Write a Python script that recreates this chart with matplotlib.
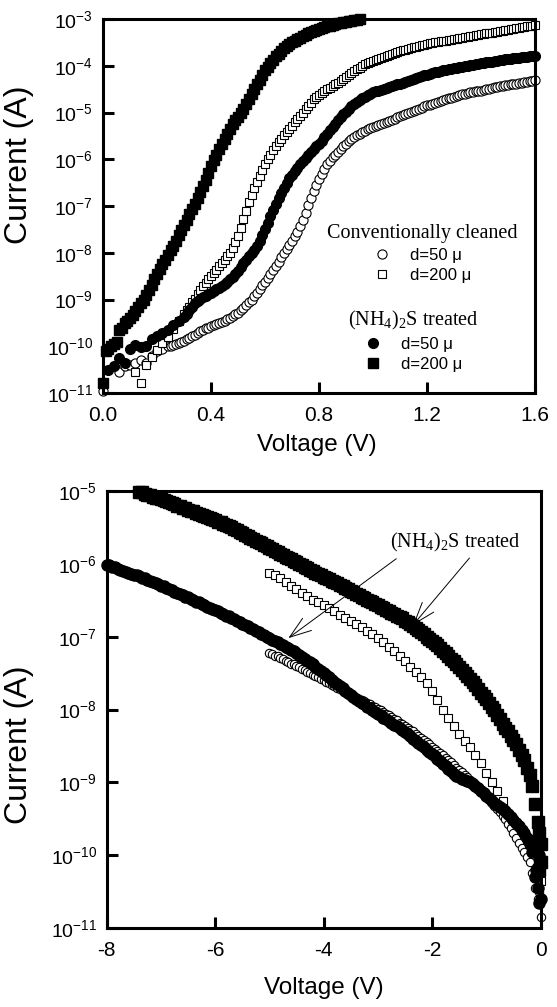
import numpy as np
import matplotlib
matplotlib.use("Agg")
import matplotlib.pyplot as plt

plt.rcParams['font.family'] = ['Liberation Sans', 'DejaVu Sans']
plt.rcParams['mathtext.default'] = 'regular'
plt.rcParams['axes.unicode_minus'] = False

# values are log10(I / A); each series is a list of (start V, step V, values)

# ---------------- forward bias (top panel) ----------------
# (NH4)2S treated, d=200 um
fwd_ts = [(0.0, 0.01, [
    -10.78, -10.1, -10.05, -10.0, -9.95, -9.9, -9.65, -9.6, -9.5, -9.45,
    -9.4, -9.33, -9.25, -9.16, -9.08, -9.0, -8.9, -8.8, -8.68, -8.56,
    -8.45, -8.35, -8.25, -8.15, -8.05, -7.95, -7.85, -7.74, -7.62, -7.51,
    -7.4, -7.29, -7.18, -7.07, -6.95, -6.83, -6.7, -6.57, -6.44, -6.3,
    -6.15, -6.02, -5.9, -5.79, -5.68, -5.57, -5.47, -5.36, -5.25, -5.17,
    -5.1, -5.01, -4.92, -4.82, -4.72, -4.61, -4.5, -4.4, -4.3, -4.2,
    -4.1, -4.02, -3.94, -3.87, -3.8, -3.74, -3.68, -3.63, -3.58, -3.54,
    -3.5, -3.46, -3.43, -3.4, -3.37, -3.34, -3.31, -3.28, -3.26, -3.23,
    -3.21, -3.19, -3.17, -3.15, -3.14, -3.12, -3.11, -3.09, -3.08, -3.07,
    -3.06, -3.05, -3.04, -3.03, -3.02, -3.01])]
# (NH4)2S treated, d=50 um
fwd_tc = [(0.02, 0.02, [
    -10.5, -10.42, -10.25, -10.35, -10.05, -9.98, -10.02, -10.0, -9.85, -9.78,
    -9.72, -9.65, -9.55, -9.47, -9.38]),
    (0.31, 0.01, [
    -9.3, -9.22, -9.15, -9.08, -9.03, -8.98, -8.95, -8.92, -8.89, -8.86,
    -8.82, -8.78, -8.75, -8.71, -8.67, -8.62, -8.57, -8.52, -8.45, -8.38,
    -8.3, -8.22, -8.15, -8.08, -8.01, -7.94, -7.85, -7.75, -7.63, -7.5,
    -7.36, -7.22, -7.08, -6.95, -6.83, -6.72, -6.61, -6.5, -6.41, -6.33,
    -6.25, -6.18, -6.11, -6.04, -5.97, -5.9, -5.84, -5.78, -5.72, -5.67,
    -5.6, -5.52, -5.45, -5.38, -5.31, -5.24, -5.17, -5.1, -5.04, -4.98,
    -4.92, -4.87, -4.82, -4.78, -4.74, -4.7, -4.66, -4.63, -4.6, -4.57,
    -4.55, -4.53, -4.51, -4.5, -4.48, -4.46, -4.44, -4.42, -4.4, -4.38,
    -4.36, -4.34, -4.32, -4.3, -4.28, -4.26, -4.24, -4.22, -4.2, -4.19,
    -4.17, -4.16, -4.14, -4.13, -4.11, -4.1, -4.09, -4.08, -4.06, -4.05,
    -4.04, -4.03, -4.02, -4.01, -4.0, -3.99, -3.98, -3.97, -3.96, -3.95,
    -3.94, -3.93, -3.92, -3.91, -3.9, -3.89, -3.88, -3.87, -3.865, -3.86,
    -3.85, -3.84, -3.835, -3.83, -3.82, -3.81, -3.805, -3.8, -3.795, -3.79])]
# conventionally cleaned, d=200 um
fwd_cs = [(0.12, 0.02, [
    -10.55, -10.78, -10.4, -10.22, -10.08, -9.94, -9.8, -9.64, -9.46, -9.3]),
    (0.31, 0.01, [
    -9.22, -9.15, -9.06, -8.98, -8.89, -8.8, -8.72, -8.65, -8.57, -8.5,
    -8.43, -8.36, -8.29, -8.22, -8.15, -8.08, -8.0, -7.9, -7.78, -7.65,
    -7.47, -7.28, -7.1, -6.92, -6.77, -6.62, -6.49, -6.36, -6.23, -6.1,
    -6.0, -5.9, -5.81, -5.72, -5.64, -5.56, -5.49, -5.42, -5.35, -5.28,
    -5.21, -5.14, -5.07, -5.0, -4.93, -4.86, -4.79, -4.72, -4.67, -4.62,
    -4.58, -4.54, -4.5, -4.47, -4.43, -4.4, -4.36, -4.32, -4.28, -4.24,
    -4.2, -4.16, -4.12, -4.08, -4.04, -4.0, -3.97, -3.94, -3.91, -3.89,
    -3.87, -3.85, -3.83, -3.81, -3.79, -3.77, -3.75, -3.73, -3.71, -3.69,
    -3.67, -3.66, -3.64, -3.62, -3.6, -3.59, -3.57, -3.56, -3.55, -3.54,
    -3.52, -3.51, -3.5, -3.49, -3.48, -3.47, -3.46, -3.45, -3.44, -3.43,
    -3.42, -3.41, -3.4, -3.39, -3.38, -3.37, -3.36, -3.35, -3.34, -3.33,
    -3.32, -3.31, -3.3, -3.29, -3.28, -3.27, -3.26, -3.25, -3.24, -3.23,
    -3.22, -3.21, -3.2, -3.19, -3.18, -3.17, -3.16, -3.15, -3.14, -3.13])]
# conventionally cleaned, d=50 um
fwd_cc = [(0.0, 0.02, [-10.95]),
          (0.06, 0.02, [
    -10.55, -10.42, -10.4, -10.35, -10.3, -10.35, -10.2, -10.1, -10.05, -10.0]),
    (0.25, 0.01, [
    -9.99, -9.98, -9.95, -9.93, -9.9, -9.88, -9.85, -9.83, -9.79, -9.75,
    -9.71, -9.68, -9.65, -9.62, -9.6, -9.57, -9.55, -9.53, -9.5, -9.48,
    -9.45, -9.42, -9.39, -9.36, -9.32, -9.28, -9.23, -9.18, -9.12, -9.06,
    -9.0, -8.93, -8.86, -8.78, -8.7, -8.62, -8.54, -8.46, -8.37, -8.28,
    -8.19, -8.1, -8.01, -7.92, -7.83, -7.74, -7.65, -7.55, -7.43, -7.3,
    -7.14, -6.98, -6.83, -6.68, -6.55, -6.42, -6.31, -6.2, -6.11, -6.03,
    -5.96, -5.9, -5.84, -5.78, -5.72, -5.67, -5.62, -5.57, -5.53, -5.49,
    -5.45, -5.42, -5.39, -5.36, -5.33, -5.31, -5.28, -5.26, -5.24, -5.22,
    -5.2, -5.18, -5.15, -5.13, -5.1, -5.08, -5.06, -5.04, -5.01, -4.99,
    -4.96, -4.94, -4.92, -4.9, -4.87, -4.85, -4.83, -4.81, -4.79, -4.77,
    -4.75, -4.73, -4.71, -4.7, -4.68, -4.66, -4.64, -4.63, -4.61, -4.6,
    -4.58, -4.57, -4.56, -4.55, -4.54, -4.53, -4.51, -4.5, -4.49, -4.48,
    -4.46, -4.45, -4.44, -4.43, -4.42, -4.41, -4.4, -4.39, -4.38, -4.37,
    -4.36, -4.35, -4.34, -4.33, -4.32, -4.31])]

# ---------------- reverse bias (bottom panel) ----------------
# (NH4)2S treated, d=50 um
rev_tc = [(-8.0, 0.05, [
    -6.01, -6.02, -6.04, -6.05, -6.07, -6.09, -6.1, -6.11, -6.12, -6.14,
    -6.15, -6.16, -6.17, -6.19, -6.2, -6.22, -6.23, -6.25, -6.26, -6.28,
    -6.3, -6.31, -6.33, -6.35, -6.36, -6.38, -6.4, -6.42, -6.43, -6.45,
    -6.46, -6.48, -6.5, -6.52, -6.53, -6.55, -6.57, -6.59, -6.6, -6.62,
    -6.64, -6.65, -6.67, -6.69, -6.71, -6.72, -6.74, -6.76, -6.78, -6.8,
    -6.82, -6.84, -6.86, -6.88, -6.9, -6.92, -6.94, -6.96, -6.98, -7.0,
    -7.02, -7.04, -7.06, -7.08, -7.1, -7.12, -7.14, -7.16, -7.18, -7.2,
    -7.23, -7.25, -7.28, -7.3, -7.33, -7.35, -7.38, -7.41, -7.44, -7.47,
    -7.5, -7.53, -7.56, -7.59, -7.62, -7.65, -7.68, -7.71, -7.74, -7.77,
    -7.8, -7.83, -7.86, -7.88, -7.91, -7.93, -7.96, -7.98, -8.01, -8.03,
    -8.06, -8.08, -8.11, -8.13, -8.16, -8.18, -8.21, -8.23, -8.26, -8.28,
    -8.31, -8.34, -8.37, -8.4, -8.43, -8.46, -8.49, -8.52, -8.55, -8.58,
    -8.61, -8.64, -8.68, -8.71, -8.75, -8.78, -8.82, -8.85, -8.88, -8.91,
    -8.93, -8.95, -8.97, -8.98, -9.0, -9.02, -9.05, -9.08, -9.12, -9.15,
    -9.19, -9.22, -9.25, -9.28, -9.31, -9.34, -9.37, -9.4, -9.44, -9.48,
    -9.52, -9.56, -9.6, -9.65, -9.7, -9.76, -9.84, -9.95, -10.3, -10.45,
    -10.6]),
    (-0.08, 0.01, [-10.2]), (-0.03, 0.01, [-10.65, -10.0])]
# (NH4)2S treated, d=200 um
rev_ts = [(-7.4, 0.05, [
    -5.01, -5.02, -5.04, -5.05, -5.06, -5.08, -5.09, -5.1, -5.11, -5.13,
    -5.14, -5.15, -5.17, -5.18, -5.2, -5.21, -5.23, -5.24, -5.26, -5.27,
    -5.28, -5.3, -5.31, -5.33, -5.34, -5.36, -5.37, -5.39, -5.4, -5.42,
    -5.43, -5.45, -5.47, -5.48, -5.5, -5.52, -5.54, -5.56, -5.58, -5.6,
    -5.62, -5.64, -5.66, -5.68, -5.7, -5.72, -5.74, -5.76, -5.78, -5.8,
    -5.82, -5.84, -5.86, -5.88, -5.9, -5.92, -5.94, -5.96, -5.98, -6.0,
    -6.02, -6.04, -6.06, -6.08, -6.1, -6.12, -6.14, -6.16, -6.18, -6.2,
    -6.21, -6.23, -6.25, -6.27, -6.29, -6.31, -6.33, -6.35, -6.37, -6.39,
    -6.41, -6.43, -6.45, -6.47, -6.49, -6.51, -6.53, -6.55, -6.57, -6.59,
    -6.61, -6.63, -6.65, -6.67, -6.69, -6.71, -6.73, -6.75, -6.78, -6.8,
    -6.83, -6.85, -6.88, -6.91, -6.94, -6.97, -7.0, -7.03, -7.06, -7.09,
    -7.12, -7.15, -7.19, -7.22, -7.26, -7.3, -7.34, -7.38, -7.42, -7.46,
    -7.5, -7.54, -7.58, -7.62, -7.67, -7.72, -7.77, -7.81, -7.86, -7.91,
    -7.96, -8.01, -8.07, -8.13, -8.2, -8.25, -8.3, -8.36, -8.42, -8.48,
    -8.55, -8.62, -8.7, -8.8, -8.9, -9.05, -9.3, -9.55, -9.85]),
    (-0.03, 0.01, [-9.7, -10.2, -10.1, -10.1])]
# conventionally cleaned, d=200 um
rev_cs = [(-5.0, 0.1, [
    -6.12, -6.16, -6.2, -6.25, -6.3, -6.35, -6.4, -6.44, -6.49, -6.53,
    -6.57, -6.61, -6.65, -6.7, -6.74, -6.78, -6.83, -6.87, -6.92, -6.97,
    -7.02, -7.08, -7.14, -7.2, -7.27, -7.34, -7.41, -7.48, -7.56, -7.64,
    -7.74, -7.87, -8.0, -8.12, -8.23, -8.33, -8.43, -8.52, -8.62, -8.74,
    -8.87, -9.0, -9.12, -9.25]),
    (-0.03, 0.03, [-10.25, -10.35])]
# conventionally cleaned, d=50 um
rev_cc = [(-5.0, 0.05, [
    -7.22, -7.24, -7.26, -7.27, -7.29, -7.31, -7.33, -7.35, -7.37, -7.38,
    -7.4, -7.42, -7.44, -7.46, -7.48, -7.5, -7.52, -7.54, -7.56, -7.58,
    -7.6, -7.62, -7.64, -7.66, -7.68, -7.7, -7.72, -7.74, -7.76, -7.78,
    -7.8, -7.82, -7.84, -7.85, -7.87, -7.89, -7.91, -7.93, -7.95, -7.97,
    -7.99, -8.01, -8.04, -8.06, -8.08, -8.1, -8.13, -8.15, -8.18, -8.2,
    -8.23, -8.25, -8.28, -8.3, -8.33, -8.36, -8.39, -8.42, -8.45, -8.48,
    -8.51, -8.54, -8.57, -8.6, -8.63, -8.66, -8.69, -8.72, -8.76, -8.8,
    -8.83, -8.86, -8.9, -8.93, -8.97, -9.0, -9.04, -9.07, -9.11, -9.15,
    -9.19, -9.23, -9.28, -9.32, -9.37, -9.41, -9.46, -9.51, -9.57, -9.63,
    -9.69, -9.76, -9.83, -9.9, -9.96, -10.03, -10.1, -10.25, -10.45, -10.6,
    -10.85]),
    (-0.03, 0.01, [-10.5])]

top_xticks = [0.0, 0.4, 0.8, 1.2, 1.6]
top_xticklabels = ['0.0', '0.4', '0.8', '1.2', '1.6']
bot_xticks = [-8, -6, -4, -2, 0]
bot_xticklabels = ['-8', '-6', '-4', '-2', '0']


def series(segments):
    vs, ls = [], []
    for start, step, vals in segments:
        vs.append(start + step * np.arange(len(vals)))
        ls.append(np.array(vals))
    return np.concatenate(vs), 10.0 ** np.concatenate(ls)


def style(ax, ymin, ymax):
    ax.set_yscale('log')
    ax.set_yticks([10.0 ** k for k in range(ymin, ymax + 1)])
    ax.yaxis.set_minor_locator(matplotlib.ticker.NullLocator())
    ax.set_ylim(10.0 ** ymin, 10.0 ** ymax)
    for s in ax.spines.values():
        s.set_linewidth(2.2)
    ax.tick_params(direction='in', length=8, width=2.2, labelsize=14,
                   top=False, right=False, pad=7)
    ax.tick_params(axis='x', labelsize=15, pad=9)


fig = plt.figure(figsize=(5.57, 10.07), dpi=100)
open_kw = dict(ls='none', mfc='white', mec='black', mew=0.8, clip_on=False)
fill_kw = dict(ls='none', color='black', clip_on=False)

# ---------------- top panel ----------------
ax1 = fig.add_axes([103 / 557, 1 - 393 / 1007, 432 / 557, 374 / 1007])
h_cc, = ax1.plot(*series(fwd_cc), 'o', ms=6.6, label='d=50 μ', **open_kw)
h_cs, = ax1.plot(*series(fwd_cs), 's', ms=6.0, label='d=200 μ', **open_kw)
h_tc, = ax1.plot(*series(fwd_tc), 'o', ms=7.0, label='d=50 μ', **fill_kw)
h_ts, = ax1.plot(*series(fwd_ts), 's', ms=6.5, label='d=200 μ', **fill_kw)

style(ax1, -11, -3)
ax1.set_xlim(0, 1.6)
ax1.set_xticks(top_xticks)
ax1.set_xticklabels(top_xticklabels)
ax1.set_xlabel('Voltage (V)', fontsize=17.5)
ax1.set_ylabel('Current (A)', fontsize=23)
ax1.xaxis.set_label_coords(0.495, -0.11)
ax1.yaxis.set_label_coords(-0.16, 0.61)

leg_kw = dict(loc='upper center', frameon=False, borderpad=0, handlelength=1.0,
              handletextpad=1.2, labelspacing=0.3, numpoints=1,
              prop={'size': 12}, borderaxespad=0,
              title_fontproperties={'family': 'Liberation Serif', 'size': 14.5})
leg1 = ax1.legend(handles=[h_cc, h_cs], title='Conventionally cleaned',
                  bbox_to_anchor=(0.739, 0.452), **leg_kw)
ax1.add_artist(leg1)
ax1.legend(handles=[h_tc, h_ts], title='(NH$_4$)$_2$S treated',
           bbox_to_anchor=(0.718, 0.226), **leg_kw)

# ---------------- bottom panel ----------------
ax2 = fig.add_axes([106.7 / 557, 1 - 928 / 1007, 433.8 / 557, 437 / 1007])
ax2.plot(*series(rev_cc), 'o', ms=6.0, **open_kw)
ax2.plot(*series(rev_cs), 's', ms=5.8, **open_kw)
ax2.plot(*series(rev_tc), 'o', ms=8.0, **fill_kw)
ax2.plot(*series(rev_ts), 's', ms=8.4, **fill_kw)

style(ax2, -11, -5)
ax2.set_xlim(-8, 0)
ax2.set_xticks(bot_xticks)
ax2.set_xticklabels(bot_xticklabels)
ax2.set_xlabel('Voltage (V)', fontsize=17.5)
ax2.set_ylabel('Current (A)', fontsize=23)
ax2.xaxis.set_label_coords(0.5, -0.112)
ax2.yaxis.set_label_coords(-0.168, 0.42)

ax2.text(-0.36, 10 ** -5.78, '(NH$_4$)$_2$S treated', ha='right', va='baseline',
         family='Liberation Serif', fontsize=14.5)
arrow_kw = dict(arrowstyle='->,head_length=1.3,head_width=0.45', lw=0.7,
                color='black', shrinkA=0, shrinkB=0, mutation_scale=12)
ax2.annotate('', xy=(-4.65, 10 ** -7.02), xytext=(-2.66, 10 ** -5.93),
             arrowprops=arrow_kw)
ax2.annotate('', xy=(-2.35, 10 ** -6.84), xytext=(-1.31, 10 ** -5.92),
             arrowprops=arrow_kw)

fig.savefig('out.png', dpi=100)
